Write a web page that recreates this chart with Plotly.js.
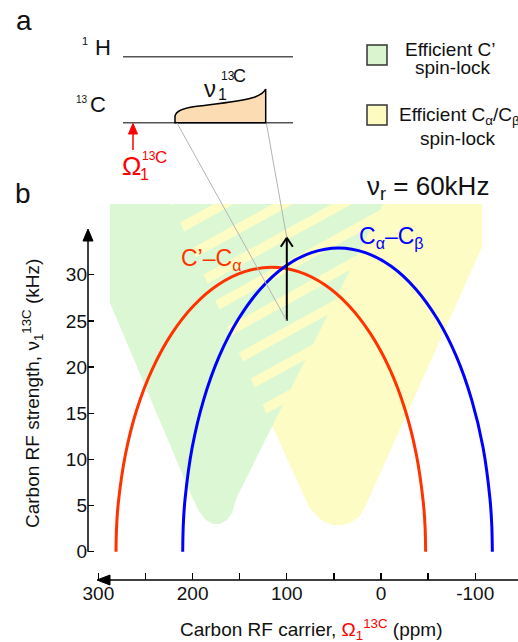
<!DOCTYPE html>
<html><head><meta charset="utf-8">
<script src="https://cdn.plot.ly/plotly-3.0.1.min.js"></script>
<style>html,body{margin:0;padding:0;background:#fff;overflow:hidden}#chart{width:518px;height:642px}</style>
</head><body><div id="chart"></div>
<script>
// ---------- data ----------
const ppmTicks = [300, 250, 200, 150, 100, 50, 0, -50, -100];
const ppmTickText = ['300', '', '200', '', '100', '', '0', '', '-100'];
const khzTicks = [0, 5, 10, 15, 20, 25, 30];

// C'-Calpha recoupling condition (ppm, kHz)
const cocaPpm = [281.3, 280.7, 278.8, 271.3, 259.2, 242.6, 222.3, 198.7, 172.5, 144.7, 116,
                 87.6, 60.1, 34.3, 11.0, -9.2, -25.5, -37.5, -44.9, -46.8, -47.4];
const cocaKhz = [0, 2.69, 5.35, 10.53, 15.4, 19.8, 23.59, 26.67, 28.94, 30.33, 30.8,
                 30.33, 28.94, 26.67, 23.59, 19.8, 15.4, 10.53, 5.35, 2.69, 0];

// Calpha-Cbeta recoupling condition (ppm, kHz)
const cacbPpm = [210.5, 209.9, 208.0, 200.5, 188.3, 171.8, 151.4, 127.75, 101.6, 73.7, 45,
                 16.7, -10.8, -36.6, -59.9, -80.0, -96.3, -108.4, -115.7, -117.6, -118.2];
const cacbKhz = [0, 2.87, 5.71, 11.25, 16.45, 21.15, 25.2, 28.49, 30.92, 32.4, 32.9,
                 32.4, 30.92, 28.49, 25.2, 21.15, 16.45, 11.25, 5.71, 2.87, 0];

// efficient spin-lock regions (ppm, kHz)
const greenRegionPpm = [287.7, 287.7, 200.6, 193.2, 185.8, 178.3, 170.9, 163.5, 158.2, 152.9, -2.1];
const greenRegionKhz = [37.66, 26.93, 5.92, 4.41, 3.43, 3.0, 3.0, 3.43, 4.19, 5.92, 37.66];
const yellowRegionPpm = [222.3, -107.2, -107.2, 17.0, 22.3, 30.8, 40.3, 51.0, 60.5, 69.0, 76.4];
const yellowRegionKhz = [37.66, 37.66, 33.0, 4.84, 3.87, 3.22, 2.89, 2.89, 3.22, 3.98, 4.84];

// spin-lock example (carrier at 100 ppm, from 25 to 34 kHz)
const lockPpm = 100;
const lockKhz = [25, 34];

// ---------- geometry helpers (decoration only) ----------
const W = 518, H = 642, L = 88, R = 518, T = 204, B = 580;
const X0 = 311.04, X1 = -145.44, Y0 = -3.065, Y1 = 37.66;
const xToPx = v => L + (v - X0) / (X1 - X0) * (R - L);
const yToPx = v => B - (v - Y0) / (Y1 - Y0) * (B - T);
const pxToX = p => X0 + (p - L) / (R - L) * (X1 - X0);
const pxToY = p => Y0 + (B - p) / (B - T) * (Y1 - Y0);
const px = p => (p - L) / (R - L);
const py = p => (B - p) / (B - T);

const FONT = 'Arial, "Liberation Sans", Helvetica, sans-serif';
const GREEN = '#dcf7d3', YELLOW = '#fdfcc4';
const RED = '#ff3300', BLUE = '#0000ff';

// ---------- stripes in the overlap band ----------
function lineInt(P, Q, A, Bq) {
  const a1 = Q[1] - P[1], b1 = P[0] - Q[0], c1 = a1 * P[0] + b1 * P[1];
  const a2 = Bq[1] - A[1], b2 = A[0] - Bq[0], c2 = a2 * A[0] + b2 * A[1];
  const d = a1 * b2 - a2 * b1;
  return [(c1 * b2 - c2 * b1) / d, (a1 * c2 - a2 * c1) / d];
}
function clipPoly(poly, clip) {
  let area = 0;
  for (let i = 0; i < clip.length; i++) { const a = clip[i], b = clip[(i + 1) % clip.length]; area += a[0] * b[1] - b[0] * a[1]; }
  const s = area > 0 ? 1 : -1;
  let out = poly;
  for (let i = 0; i < clip.length; i++) {
    const A = clip[i], Bq = clip[(i + 1) % clip.length];
    const inside = p => s * ((Bq[0] - A[0]) * (p[1] - A[1]) - (Bq[1] - A[1]) * (p[0] - A[0])) >= 0;
    const inp = out; out = [];
    for (let j = 0; j < inp.length; j++) {
      const P = inp[j], Q = inp[(j + 1) % inp.length];
      const pi = inside(P), qi = inside(Q);
      if (pi) out.push(P);
      if (pi !== qi) out.push(lineInt(P, Q, A, Bq));
    }
    if (!out.length) break;
  }
  return out;
}
const yN = yellowRegionPpm.length, gN = greenRegionPpm.length;
const L1a = [xToPx(yellowRegionPpm[0]), yToPx(yellowRegionKhz[0])];
const L1b = [xToPx(yellowRegionPpm[yN - 1]), yToPx(yellowRegionKhz[yN - 1])];
const L2a = [xToPx(greenRegionPpm[gN - 1]), yToPx(greenRegionKhz[gN - 1])];
const L2b = [xToPx(greenRegionPpm[gN - 2]), yToPx(greenRegionKhz[gN - 2])];
const Xint = lineInt(L1a, L1b, L2a, L2b);
const band = [L1a, L2a, Xint];

const stripeTraces = [];
for (let k = 0; k < 11; k++) {
  const yk = 409 - 26 * k;
  const t = (yk - L1a[1]) / (L1b[1] - L1a[1]);
  const xk = L1a[0] + t * (L1b[0] - L1a[0]);
  const sl = -0.55, h = 5.5;
  const yc = x => yk + sl * (x - xk);
  const xa = xk - 40, xb = xk + 320;
  const poly = [[xa, yc(xa) - h], [xb, yc(xb) - h], [xb, yc(xb) + h], [xa, yc(xa) + h]];
  const c = clipPoly(poly, band);
  if (c.length < 3) continue;
  stripeTraces.push({
    type: 'scatter', mode: 'lines', x: c.map(p => pxToX(p[0])).concat([pxToX(c[0][0])]),
    y: c.map(p => pxToY(p[1])).concat([pxToY(c[0][1])]),
    fill: 'toself', fillcolor: YELLOW, line: {width: 0, color: YELLOW}, hoverinfo: 'skip', showlegend: false
  });
}

// ---------- traces ----------
const traces = [
  {type: 'scatter', mode: 'lines', x: yellowRegionPpm.concat([yellowRegionPpm[0]]), y: yellowRegionKhz.concat([yellowRegionKhz[0]]),
   fill: 'toself', fillcolor: YELLOW, line: {width: 0, color: YELLOW}, hoverinfo: 'skip', showlegend: false},
  {type: 'scatter', mode: 'lines', x: greenRegionPpm.concat([greenRegionPpm[0]]), y: greenRegionKhz.concat([greenRegionKhz[0]]),
   fill: 'toself', fillcolor: GREEN, line: {width: 0, color: GREEN}, hoverinfo: 'skip', showlegend: false},
  ...stripeTraces,
  {type: 'scatter', mode: 'lines', x: cocaPpm, y: cocaKhz, line: {color: RED, width: 3, shape: 'spline', smoothing: 1}, showlegend: false},
  {type: 'scatter', mode: 'lines', x: cacbPpm, y: cacbKhz, line: {color: BLUE, width: 3, shape: 'spline', smoothing: 1}, showlegend: false},
  {type: 'scatter', mode: 'lines', x: [lockPpm, lockPpm], y: lockKhz, line: {color: '#000', width: 2}, showlegend: false},
];
// chevron head of the spin-lock arrow
const tipX = xToPx(lockPpm), tipY = yToPx(lockKhz[1]);
traces.push({type: 'scatter', mode: 'lines',
  x: [pxToX(tipX - 6), lockPpm, pxToX(tipX + 6)],
  y: [pxToY(tipY + 9), lockKhz[1], pxToY(tipY + 9)],
  line: {color: '#000', width: 2}, showlegend: false});

// ---------- shapes (axes arrows, schematic) ----------
const P = (x, y) => px(x) + ',' + py(y);
const shapes = [
  {type: 'line', xref: 'paper', yref: 'paper', x0: px(104), y0: py(580), x1: px(518), y1: py(580), line: {color: '#000', width: 1.5}},
  {type: 'path', xref: 'paper', yref: 'paper', path: `M${P(97, 580)} L${P(110, 575)} L${P(110, 585)} Z`, fillcolor: '#000', line: {color: '#000', width: 1}},
  {type: 'line', xref: 'paper', yref: 'paper', x0: px(88), y0: py(yToPx(0)), x1: px(88), y1: py(236), line: {color: '#000', width: 1.5}},
  {type: 'path', xref: 'paper', yref: 'paper', path: `M${P(88, 229)} L${P(83, 241)} L${P(93, 241)} Z`, fillcolor: '#000', line: {color: '#000', width: 1}},
  {type: 'line', xref: 'paper', yref: 'paper', x0: px(123), y0: py(56.7), x1: px(293), y1: py(56.7), line: {color: '#555', width: 1.5}},
  {type: 'line', xref: 'paper', yref: 'paper', x0: px(123), y0: py(122.7), x1: px(293), y1: py(122.7), line: {color: '#555', width: 1.5}},
  {type: 'path', xref: 'paper', yref: 'paper',
   path: `M${P(175, 122.7)} L${P(175, 116)} C${P(176, 111)} ${P(182, 108.5)} ${P(195, 106.5)} C${P(215, 104)} ${P(245, 101)} ${P(255, 97)} C${P(262, 94)} ${P(265, 91)} ${P(265.7, 89)} L${P(265.7, 122.7)} Z`,
   fillcolor: '#fbdcb3', line: {color: '#000', width: 1.5}},
  {type: 'line', xref: 'paper', yref: 'paper', x0: px(133), y0: py(150), x1: px(133), y1: py(132), line: {color: 'red', width: 1.5}},
  {type: 'path', xref: 'paper', yref: 'paper', path: `M${P(133, 123.5)} L${P(128.5, 134)} L${P(137.5, 134)} Z`, fillcolor: 'red', line: {color: 'red', width: 1}},
  {type: 'line', xref: 'paper', yref: 'paper', x0: px(177), y0: py(123), x1: px(tipX), y1: py(yToPx(lockKhz[0])), line: {color: '#b4b4b4', width: 1}},
  {type: 'line', xref: 'paper', yref: 'paper', x0: px(266.5), y0: py(124), x1: px(tipX), y1: py(tipY), line: {color: '#b4b4b4', width: 1}},
  {type: 'rect', xref: 'paper', yref: 'paper', x0: px(367), y0: py(45), x1: px(387), y1: py(65), fillcolor: '#d8f5cf', line: {color: '#333', width: 1.5}},
  {type: 'rect', xref: 'paper', yref: 'paper', x0: px(367), y0: py(105), x1: px(387), y1: py(125), fillcolor: '#fdfbc0', line: {color: '#333', width: 1.5}},
];

// ---------- annotations ----------
function A(text, x, y, size, opts) {
  return Object.assign({xref: 'paper', yref: 'paper', x: px(x), y: py(y), text: text, showarrow: false,
    xanchor: 'left', yanchor: 'middle', font: {family: FONT, size: size, color: '#111'}}, opts || {});
}
const annotations = [
  A('a', 14, 20, 28),
  A('b', 13, 194, 28),
  A('H', 93, 48, 22),
  A('1', 90, 41, 11, {xanchor: 'right'}),
  A('C', 88, 105, 22),
  A('13', 90, 99.5, 10, {xanchor: 'right'}),
  A('ν', 202, 88.5, 24),
  A('1', 216, 94.5, 16),
  A('13', 219, 75.5, 12),
  A('C', 231, 75.5, 18),
  A('Ω', 120, 166, 26, {font: {family: FONT, size: 26, color: 'red'}}),
  A('1', 138, 174.5, 16, {font: {family: FONT, size: 16, color: 'red'}}),
  A('13', 140, 156, 12, {font: {family: FONT, size: 12, color: 'red'}}),
  A('C', 153, 157, 17, {font: {family: FONT, size: 17, color: 'red'}}),
  A('Efficient C’', 450, 49, 19, {xanchor: 'center'}),
  A('spin-lock', 452, 67, 19, {xanchor: 'center'}),
  A('Efficient C<sub>α</sub>/C<sub>β</sub>', 397, 116, 19),
  A('spin-lock', 457, 138, 19, {xanchor: 'center'}),
  A('ν<sub>r</sub> = 60kHz', 365, 187, 26),
  A('C’–C<sub>α</sub>', 179, 259, 23, {font: {family: FONT, size: 23, color: RED}}),
  A('C<sub>α</sub>–C<sub>β</sub>', 357, 237, 23, {font: {family: FONT, size: 23, color: BLUE}}),
  A('Carbon RF strength, ν<sub>1</sub><sup>13C</sup> (kHz)', 32, 394, 19, {xanchor: 'center', textangle: -90}),
  A('Carbon RF carrier, <span style="color:red">Ω<sub>1</sub><sup>13C</sup></span> (ppm)', 311, 629, 19, {xanchor: 'center'}),
];

const layout = {
  width: W, height: H, margin: {l: L, r: W - R, t: T, b: H - B, pad: 0},
  paper_bgcolor: '#fff', plot_bgcolor: 'rgba(0,0,0,0)', showlegend: false,
  xaxis: {range: [X0, X1], showgrid: false, zeroline: false, showline: false, automargin: false,
    tickmode: 'array', tickvals: ppmTicks, ticktext: ppmTickText, ticks: 'inside', ticklen: 7, tickwidth: 1.3, tickcolor: '#000',
    tickfont: {family: FONT, size: 19, color: '#111'}},
  yaxis: {range: [Y0, Y1], showgrid: false, zeroline: false, showline: false, automargin: false,
    tickmode: 'array', tickvals: khzTicks, ticks: 'inside', ticklen: 6, tickwidth: 1.3, tickcolor: '#000',
    tickfont: {family: FONT, size: 19, color: '#111'}},
  shapes: shapes, annotations: annotations,
};
Plotly.newPlot('chart', traces, layout, {staticPlot: true, displayModeBar: false});
</script></body></html>
